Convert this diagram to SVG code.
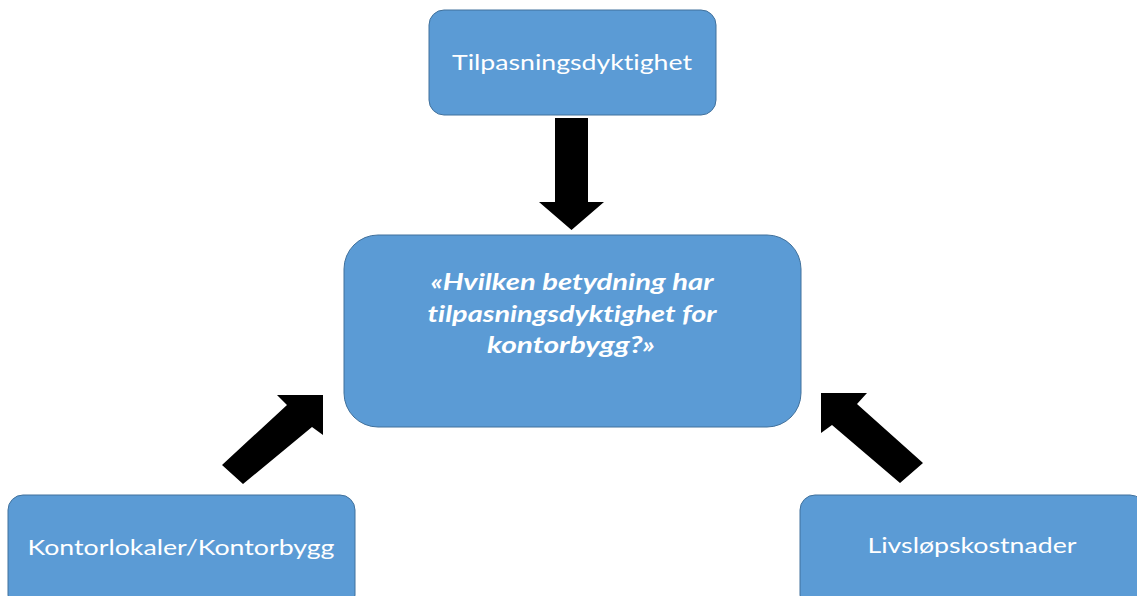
<svg xmlns="http://www.w3.org/2000/svg" width="1137" height="596" viewBox="0 0 1137 596">
<style>
.box{fill:#5B9BD5;stroke:#41719C;stroke-width:1}
.lbl{font-family:Lato,"Open Sans","Liberation Sans",sans-serif;font-size:22px;fill:#FFFFFF;text-anchor:middle;font-variant-ligatures:none;font-feature-settings:"liga" 0}
.q{font-family:Lato,"Open Sans","Liberation Sans",sans-serif;font-size:22px;font-weight:bold;font-style:italic;fill:#FFFFFF;text-anchor:middle;font-variant-ligatures:none;font-feature-settings:"liga" 0}
.arr{fill:#000000}
</style>
<rect width="1137" height="596" fill="#FFFFFF"/>
<g id="connectors">
<polygon class="arr" points="555,118 588,118 588,202 604,202 571.5,230 539,202 555,202"/>
<polygon class="arr" points="323,395 323,435 312,427 243,484 222,465 287,405 277,395"/>
<polygon class="arr" points="821,393 867,393 857,404 923,463 900,483 832,425 821,433"/>
</g>
<g id="node-tilpasning">
<rect class="box" x="429" y="10" width="287" height="105" rx="15"/>
<text class="lbl" x="572" y="70" textLength="240" lengthAdjust="spacingAndGlyphs">Tilpasningsdyktighet</text>
</g>
<g id="node-question">
<rect class="box" x="344" y="235" width="457" height="192" rx="34"/>
<text class="q" x="572" y="290" textLength="283" lengthAdjust="spacingAndGlyphs">«Hvilken betydning har</text>
<text class="q" x="572" y="322" textLength="289" lengthAdjust="spacingAndGlyphs">tilpasningsdyktighet for</text>
<text class="q" x="571" y="353" textLength="168" lengthAdjust="spacingAndGlyphs">kontorbygg?»</text>
</g>
<g id="node-kontor">
<rect class="box" x="8" y="495" width="347" height="115" rx="15"/>
<text class="lbl" x="181" y="555" textLength="307" lengthAdjust="spacingAndGlyphs">Kontorlokaler/Kontorbygg</text>
</g>
<g id="node-livslop">
<rect class="box" x="800" y="495" width="345" height="115" rx="15"/>
<text class="lbl" x="972" y="553" textLength="209" lengthAdjust="spacingAndGlyphs">Livsløpskostnader</text>
</g>
</svg>
